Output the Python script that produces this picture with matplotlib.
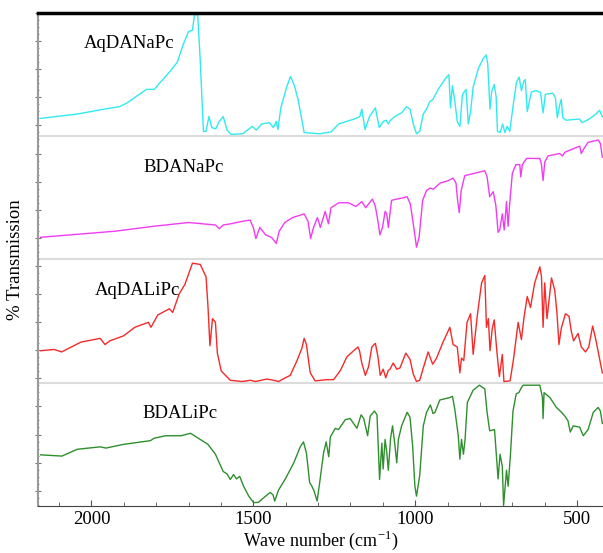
import matplotlib
matplotlib.use("Agg")
import matplotlib.pyplot as plt
from matplotlib.ticker import MultipleLocator
import numpy as np

plt.rcParams['font.family'] = ['Liberation Serif', 'DejaVu Serif']
plt.rcParams['mathtext.fontset'] = 'custom'
plt.rcParams['mathtext.rm'] = 'Liberation Serif'

# spectra: wavenumber (cm-1) and relative transmission in its band (0..1)
aqdanapc_wn = [2157, 2044, 1961, 1913, 1890, 1866, 1830, 1806, 1783, 1759, 1735, 1717, 1700, 1688,
               1682, 1672, 1664, 1654, 1646, 1637, 1628, 1616, 1605, 1593, 1581, 1569, 1533, 1503,
               1491, 1474, 1450, 1438, 1429, 1424, 1415, 1397, 1385, 1373, 1361, 1343, 1295, 1260,
               1236, 1212, 1188, 1171, 1165, 1155, 1141, 1123, 1111, 1099, 1090, 1083, 1078, 1063,
               1042, 1027, 1016, 1006, 996, 986, 975, 965, 960, 955, 945, 929, 909, 896, 891, 885,
               878, 870, 862, 854, 843, 836, 829, 821, 805, 790, 781, 776, 769, 764, 756, 750, 746,
               738, 730, 723, 716, 708, 697, 687, 679, 672, 664, 660, 654, 646, 641, 626, 613, 605,
               598, 575, 567, 561, 554, 549, 544, 534, 493, 485, 462, 442, 431, 422]
aqdanapc_t = [0.145, 0.18, 0.22, 0.24, 0.27, 0.315, 0.38, 0.38, 0.45, 0.52, 0.60, 0.74, 0.85, 0.86,
              0.98, 0.995, 0.62, 0.04, 0.04, 0.16, 0.07, 0.06, 0.12, 0.16, 0.05, 0.015, 0.02, 0.08,
              0.05, 0.10, 0.11, 0.07, 0.12, 0.055, 0.23, 0.40, 0.485, 0.41, 0.29, 0.03, 0.02, 0.035,
              0.10, 0.12, 0.14, 0.16, 0.22, 0.055, 0.16, 0.23, 0.07, 0.12, 0.13, 0.10, 0.125, 0.16,
              0.19, 0.24, 0.22, 0.10, 0.02, 0.04, 0.18, 0.22, 0.25, 0.28, 0.30, 0.38, 0.46, 0.50,
              0.23, 0.41, 0.29, 0.12, 0.08, 0.34, 0.38, 0.10, 0.20, 0.40, 0.55, 0.63, 0.66, 0.59,
              0.22, 0.36, 0.42, 0.32, 0.04, 0.03, 0.10, 0.03, 0.08, 0.04, 0.26, 0.44, 0.48, 0.37,
              0.45, 0.46, 0.20, 0.30, 0.36, 0.37, 0.355, 0.19, 0.34, 0.35, 0.31, 0.15, 0.25, 0.30,
              0.15, 0.13, 0.14, 0.11, 0.14, 0.18, 0.21, 0.16]

bdanapc_wn = [2157, 1925, 1806, 1700, 1617, 1605, 1593, 1569, 1533, 1510, 1500, 1492, 1480, 1462,
              1444, 1429, 1420, 1403, 1379, 1343, 1331, 1323, 1314, 1302, 1293, 1278, 1268, 1260,
              1236, 1206, 1183, 1165, 1153, 1132, 1123, 1115, 1109, 1101, 1093, 1088, 1083, 1073,
              1058, 1037, 1025, 1015, 1006, 996, 988, 977, 965, 954, 944, 923, 898, 883, 874, 869,
              864, 858, 847, 816, 785, 778, 770, 759, 751, 744, 739, 731, 725, 718, 713, 708, 700,
              689, 677, 674, 669, 656, 615, 610, 605, 600, 590, 554, 545, 538, 492, 487, 479, 466,
              435, 428, 422]
bdanapc_t = [0.18, 0.23, 0.27, 0.30, 0.28, 0.25, 0.28, 0.29, 0.31, 0.32, 0.26, 0.17, 0.26, 0.20,
             0.18, 0.13, 0.23, 0.30, 0.34, 0.37, 0.31, 0.17, 0.26, 0.34, 0.26, 0.39, 0.29, 0.42,
             0.46, 0.46, 0.43, 0.47, 0.42, 0.49, 0.43, 0.31, 0.20, 0.26, 0.39, 0.37, 0.26, 0.48,
             0.49, 0.50, 0.51, 0.45, 0.29, 0.10, 0.18, 0.48, 0.56, 0.58, 0.57, 0.62, 0.64, 0.66,
             0.62, 0.48, 0.38, 0.56, 0.68, 0.70, 0.72, 0.67, 0.51, 0.55, 0.44, 0.22, 0.24, 0.37,
             0.24, 0.47, 0.27, 0.46, 0.70, 0.77, 0.77, 0.67, 0.77, 0.82, 0.82, 0.77, 0.64, 0.79,
             0.84, 0.86, 0.84, 0.87, 0.92, 0.86, 0.90, 0.95, 0.97, 0.94, 0.83]

aqdalipc_wn = [2157, 2115, 2092, 2032, 1973, 1958, 1943, 1901, 1866, 1824, 1816, 1795, 1759, 1749,
               1729, 1711, 1688, 1664, 1646, 1640, 1634, 1626, 1617, 1611, 1599, 1571, 1535, 1509,
               1494, 1458, 1437, 1422, 1401, 1386, 1365, 1350, 1343, 1336, 1329, 1324, 1309, 1273,
               1252, 1231, 1211, 1190, 1177, 1172, 1165, 1154, 1144, 1134, 1123, 1115, 1108, 1099,
               1091, 1083, 1078, 1068, 1057, 1047, 1029, 1016, 1006, 996, 986, 975, 960, 946, 934,
               914, 893, 883, 870, 862, 857, 850, 840, 829, 821, 808, 795, 785, 780, 774, 769, 762,
               756, 748, 740, 731, 726, 707, 697, 682, 672, 664, 654, 644, 631, 615, 610, 605, 600,
               593, 579, 569, 562, 556, 549, 536, 525, 518, 511, 497, 487, 474, 464, 452, 443, 431,
               422]
aqdalipc_t = [0.26, 0.27, 0.25, 0.33, 0.36, 0.31, 0.34, 0.38, 0.45, 0.49, 0.45, 0.55, 0.60, 0.57,
              0.72, 0.80, 0.97, 0.96, 0.86, 0.62, 0.30, 0.52, 0.49, 0.24, 0.095, 0.02, 0.01, 0.02,
              0.01, 0.03, 0.02, 0.01, 0.04, 0.06, 0.18, 0.28, 0.36, 0.31, 0.17, 0.08, 0.015, 0.025,
              0.025, 0.10, 0.21, 0.26, 0.29, 0.26, 0.16, 0.06, 0.13, 0.29, 0.32, 0.21, 0.06, 0.11,
              0.04, 0.10, 0.11, 0.16, 0.11, 0.12, 0.24, 0.19, 0.07, 0.01, 0.02, 0.12, 0.25, 0.15,
              0.20, 0.33, 0.45, 0.31, 0.29, 0.08, 0.20, 0.18, 0.49, 0.56, 0.23, 0.55, 0.81, 0.87,
              0.45, 0.52, 0.26, 0.44, 0.51, 0.26, 0.05, 0.23, 0.01, 0.015, 0.18, 0.49, 0.35, 0.53,
              0.70, 0.61, 0.81, 0.94, 0.86, 0.45, 0.81, 0.52, 0.85, 0.75, 0.56, 0.31, 0.44, 0.56,
              0.54, 0.42, 0.34, 0.40, 0.29, 0.25, 0.29, 0.46, 0.36, 0.20, 0.08]

bdalipc_wn = [2157, 2091, 2044, 1973, 1955, 1901, 1818, 1806, 1771, 1723, 1694, 1640, 1617, 1593,
              1581, 1571, 1561, 1552, 1542, 1530, 1514, 1499, 1484, 1468, 1448, 1439, 1434, 1422,
              1401, 1375, 1355, 1345, 1336, 1326, 1319, 1312, 1303, 1295, 1283, 1275, 1267, 1262,
              1247, 1237, 1216, 1201, 1180, 1167, 1159, 1147, 1139, 1126, 1118, 1110, 1103, 1099,
              1093, 1088, 1083, 1076, 1070, 1063, 1057, 1052, 1042, 1025, 1016, 1008, 1001, 996,
              986, 975, 965, 953, 945, 939, 924, 893, 885, 878, 867, 862, 857, 851, 846, 839, 821,
              802, 785, 778, 770, 755, 744, 738, 731, 727, 718, 713, 706, 698, 688, 680, 672, 667,
              615, 607, 605, 602, 584, 564, 548, 538, 528, 521, 512, 492, 481, 466, 450, 435, 428,
              422]
bdalipc_t = [0.415, 0.405, 0.46, 0.48, 0.47, 0.50, 0.53, 0.55, 0.57, 0.57, 0.59, 0.50, 0.42, 0.28,
             0.26, 0.215, 0.255, 0.22, 0.24, 0.16, 0.08, 0.027, 0.03, 0.067, 0.11, 0.09, 0.04,
             0.13, 0.22, 0.35, 0.48, 0.52, 0.43, 0.19, 0.16, 0.12, 0.04, 0.19, 0.43, 0.52, 0.40,
             0.56, 0.63, 0.62, 0.70, 0.71, 0.63, 0.74, 0.71, 0.57, 0.73, 0.77, 0.74, 0.215, 0.51,
             0.30, 0.54, 0.44, 0.29, 0.55, 0.65, 0.50, 0.35, 0.54, 0.65, 0.76, 0.72, 0.49, 0.16,
             0.08, 0.25, 0.65, 0.76, 0.82, 0.75, 0.76, 0.86, 0.88, 0.89, 0.79, 0.57, 0.38, 0.54,
             0.42, 0.54, 0.84, 0.94, 0.98, 0.95, 0.76, 0.61, 0.62, 0.22, 0.42, 0.32, 0.005, 0.29,
             0.16, 0.41, 0.77, 0.91, 0.92, 0.96, 0.98, 0.98, 0.88, 0.71, 0.92, 0.88, 0.80, 0.76,
             0.73, 0.69, 0.60, 0.65, 0.64, 0.57, 0.62, 0.76, 0.80, 0.77, 0.67]

names = ["AqDANaPc", "BDANaPc", "AqDALiPc", "BDALiPc"]
colors = ["#30eaf0", "#f23cf2", "#f52a2a", "#2f8f2f"]
label_x = [2022, 1840, 1991, 1843]

series = [(aqdanapc_wn, aqdanapc_t), (bdanapc_wn, bdanapc_t),
          (aqdalipc_wn, aqdalipc_t), (bdalipc_wn, bdalipc_t)]

fig = plt.figure(figsize=(6.03, 5.53), dpi=100)
ax = fig.add_axes([0.063, 0.085, 0.937, 0.8915])

# stack the four spectra, one band each, top to bottom
for i, (wn, t) in enumerate(series):
    base = 3 - i
    ax.plot(wn, np.array(t) + base, color=colors[i], lw=1.0)
    ax.text(label_x[i], base + 0.75, names[i], fontsize=13.5, va='center', ha='left')
    if i > 0:
        ax.axhline(base + 1, color='#dcdcdc', lw=1.5, zorder=0)

ax.set_xlim(2165, 420)
ax.set_ylim(0, 4)

ax.xaxis.set_major_locator(MultipleLocator(500))
ax.xaxis.set_minor_locator(MultipleLocator(100))
ax.tick_params(axis='x', which='both', direction='in', labelsize=13.5, color='#555555')
ax.tick_params(axis='x', which='major', length=4)
ax.tick_params(axis='x', which='minor', length=3)

ax.set_yticks(np.arange(4, 0, -0.228))
ax.set_yticks(np.arange(4, 0, -0.057), minor=True)
ax.tick_params(axis='y', which='both', direction='inout', labelleft=False, color='#777777')
ax.tick_params(axis='y', which='major', length=4)
ax.tick_params(axis='y', which='minor', length=2)

ax.spines['top'].set_linewidth(2.5)
ax.spines['top'].set_color('black')
ax.spines['right'].set_visible(False)
ax.spines['left'].set_color('#999999')
ax.spines['left'].set_linewidth(1.5)
ax.spines['bottom'].set_color('#444444')

ax.set_xlabel(r"Wave number (cm$^{\mathrm{-1}}$)", fontsize=13, labelpad=1)
ax.set_ylabel("% Transmission", fontsize=13.5, labelpad=8)

plt.savefig("out.png", dpi=100)
